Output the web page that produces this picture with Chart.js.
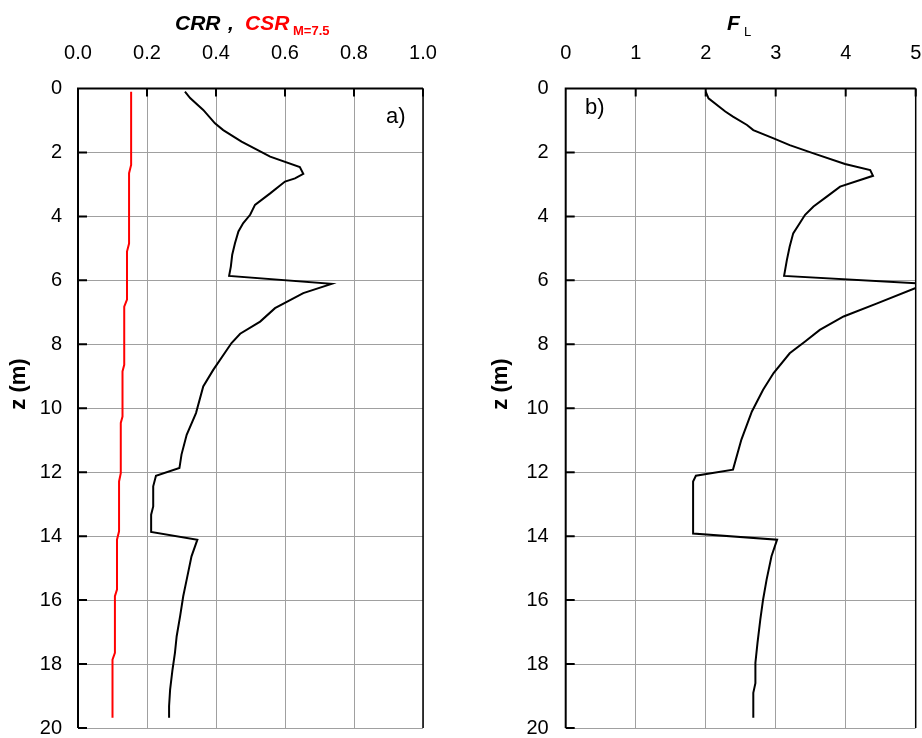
<!DOCTYPE html>
<html>
<head>
<meta charset="utf-8">
<script src="https://cdn.jsdelivr.net/npm/chart.js@4.4.1/dist/chart.umd.min.js"></script>
<style>
html, body { margin: 0; padding: 0; background: #fff; }
#wrap { position: relative; width: 922px; height: 738px; }
canvas { position: absolute; top: 0; }
</style>
</head>
<body>
<div id="wrap">
  <canvas id="chartA" width="461" height="738" style="left:0"></canvas>
  <canvas id="chartB" width="461" height="738" style="left:461px"></canvas>
</div>
<script>
// depth profile, z in metres
var zCrr = [0.1, 0.3, 0.67, 1.09, 1.3, 1.66, 1.97, 2.13, 2.46, 2.67, 2.81, 2.91, 3.28, 3.64, 3.95, 4.21, 4.47, 4.84, 5.2, 5.57, 5.86,
            6.11, 6.4, 6.87, 7.29, 7.67, 7.96, 8.8, 9.32, 10.15, 10.83, 11.45, 11.87, 12.11, 12.44, 13.07, 13.33, 13.87,
            14.11, 14.63, 15.36, 15.88, 16.5, 17.13, 17.65, 18.17, 18.8, 19.32, 19.68];
var crr = [0.310, 0.325, 0.363, 0.397, 0.421, 0.474, 0.528, 0.557, 0.643, 0.653, 0.629, 0.600, 0.557, 0.513, 0.499, 0.479, 0.465, 0.455, 0.447, 0.443, 0.438,
           0.735, 0.653, 0.571, 0.528, 0.470, 0.445, 0.392, 0.363, 0.342, 0.315, 0.300, 0.294, 0.226, 0.218, 0.218, 0.212, 0.212,
           0.346, 0.329, 0.315, 0.305, 0.296, 0.286, 0.281, 0.274, 0.267, 0.264, 0.264];

var zCsr = [0.1, 2.39, 2.65, 4.85, 5.1, 6.6, 6.82, 8.64, 8.85, 10.26, 10.46, 12.03, 12.29, 13.85, 14.11, 15.67, 15.88, 17.65, 17.86, 19.68];
var csr = [0.154, 0.154, 0.148, 0.148, 0.142, 0.142, 0.134, 0.134, 0.129, 0.129, 0.124, 0.124, 0.119, 0.119, 0.113, 0.113, 0.107, 0.107, 0.100, 0.100];

var zFl = [0.1, 0.31, 0.72, 0.88, 1.14, 1.3, 1.56, 1.77, 2.03, 2.36, 2.55, 2.73, 3.07, 3.38, 3.69, 3.95, 4.53, 4.94, 5.36, 5.86,
           6.11, 6.73, 7.13, 7.55, 7.91, 8.28, 8.9, 9.42, 10.1, 10.98, 11.92, 12.11, 12.29, 13.92,
           14.11, 14.63, 15.36, 15.98, 16.61, 17.34, 17.96, 18.6, 18.9, 19.68];
var fl = [2.00, 2.04, 2.28, 2.39, 2.59, 2.68, 2.97, 3.20, 3.54, 3.99, 4.35, 4.39, 3.92, 3.73, 3.54, 3.42, 3.25, 3.20, 3.16, 3.12,
          5.15, 4.44, 3.97, 3.63, 3.42, 3.20, 2.97, 2.82, 2.66, 2.51, 2.39, 1.86, 1.82, 1.82,
          3.02, 2.94, 2.87, 2.82, 2.78, 2.74, 2.71, 2.71, 2.68, 2.68];

var zTicks = [0, 20, 2];
var FONT = "'Liberation Sans', Arial, sans-serif";

function pts(xs, zs) {
    return xs.map(function (v, i) { return { x: v, y: zs[i] }; });
}

// black frame on top/left/right plus the short inward ticks
var frame = {
    id: 'frame',
    afterDatasetsDraw: function (chart) {
        var ctx = chart.ctx, a = chart.chartArea, x = chart.scales.x, y = chart.scales.y;
        ctx.save();
        ctx.strokeStyle = '#000';
        ctx.lineWidth = 2;
        ctx.beginPath();
        x.ticks.forEach(function (t) {
            var px = x.getPixelForValue(t.value);
            ctx.moveTo(px, a.top); ctx.lineTo(px, a.top + 8);
        });
        y.ticks.forEach(function (t) {
            var py = y.getPixelForValue(t.value);
            ctx.moveTo(a.left, py); ctx.lineTo(a.left + 9, py);
        });
        ctx.moveTo(a.left, a.bottom); ctx.lineTo(a.left, a.top); ctx.lineTo(a.right, a.top);
        ctx.stroke();
        ctx.lineWidth = 1.5;
        ctx.beginPath();
        ctx.moveTo(a.right, a.top); ctx.lineTo(a.right, a.bottom);
        ctx.stroke();
        ctx.restore();
    }
};

function yTitle(ctx, cx, cy) {
    ctx.save();
    ctx.translate(cx, cy);
    ctx.rotate(-Math.PI / 2);
    ctx.font = 'bold 22px ' + FONT;
    ctx.fillStyle = '#000';
    ctx.textAlign = 'center';
    ctx.textBaseline = 'middle';
    ctx.fillText('z (m)', 0, 0);
    ctx.restore();
}

function makePanel(id, datasets, xMax, xStep, decimals, yWidth, rightWidth, gap, texts) {
    return new Chart(document.getElementById(id).getContext('2d'), {
        type: 'scatter',
        data: { datasets: datasets },
        options: {
            responsive: false,
            animation: false,
            layout: { padding: 0 },
            plugins: { legend: { display: false }, tooltip: { enabled: false } },
            elements: { point: { radius: 0 }, line: { tension: 0 } },
            scales: {
                x: {
                    type: 'linear', position: 'top', min: 0, max: xMax,
                    ticks: {
                        stepSize: xStep, padding: 0, color: '#000',
                        font: { family: FONT, size: 20 },
                        callback: function (v) { return v.toFixed(decimals); }
                    },
                    grid: { color: '#a0a0a0', lineWidth: 1, tickLength: 23, tickColor: 'rgba(0,0,0,0)' },
                    border: { display: false },
                    afterFit: function (s) { s.height = 88.5; }
                },
                y: {
                    type: 'linear', position: 'left', reverse: true, min: zTicks[0], max: zTicks[1],
                    ticks: { stepSize: zTicks[2], padding: 0, color: '#000', font: { family: FONT, size: 20, lineHeight: 1 } },
                    grid: { color: '#a0a0a0', lineWidth: 1, tickLength: gap, tickColor: 'rgba(0,0,0,0)' },
                    border: { display: false },
                    afterFit: function (s) { s.width = yWidth; }
                },
                yr: {
                    type: 'linear', position: 'right', display: true,
                    ticks: { display: false },
                    grid: { display: false },
                    border: { display: false },
                    afterFit: function (s) { s.width = rightWidth; }
                }
            }
        },
        plugins: [frame, { id: 'texts', afterDraw: function (chart) { texts(chart.ctx); } }]
    });
}

makePanel('chartA', [
    { data: pts(crr, zCrr), showLine: true, borderColor: '#000', borderWidth: 2 },
    { data: pts(csr, zCsr), showLine: true, borderColor: '#ff0000', borderWidth: 2 }
], 1, 0.2, 1, 78, 38, 16, function (ctx) {
    ctx.save();
    ctx.textBaseline = 'alphabetic';
    ctx.textAlign = 'left';
    ctx.font = 'italic bold 21px ' + FONT;
    ctx.fillStyle = '#000';
    ctx.fillText('CRR', 175, 30);
    ctx.fillText(',', 228, 30);
    ctx.fillStyle = '#ff0000';
    ctx.fillText('CSR', 245, 30);
    ctx.font = 'bold 13px ' + FONT;
    ctx.fillText('M=7.5', 293, 35);
    ctx.fillStyle = '#000';
    ctx.font = '22px ' + FONT;
    ctx.fillText('a)', 386, 122.5);
    ctx.restore();
    yTitle(ctx, 18.5, 384);
});

makePanel('chartB', [
    { data: pts(fl, zFl), showLine: true, borderColor: '#000', borderWidth: 2 }
], 5, 1, 0, 104.7, 6.3, 17, function (ctx) {
    ctx.save();
    ctx.textBaseline = 'alphabetic';
    ctx.textAlign = 'left';
    ctx.fillStyle = '#000';
    ctx.font = 'italic bold 21px ' + FONT;
    ctx.fillText('F', 266, 30);
    ctx.font = '13px ' + FONT;
    ctx.fillText('L', 283, 36);
    ctx.font = '22px ' + FONT;
    ctx.fillText('b)', 124, 114);
    ctx.restore();
    yTitle(ctx, 39.5, 384);
});
</script>
</body>
</html>
